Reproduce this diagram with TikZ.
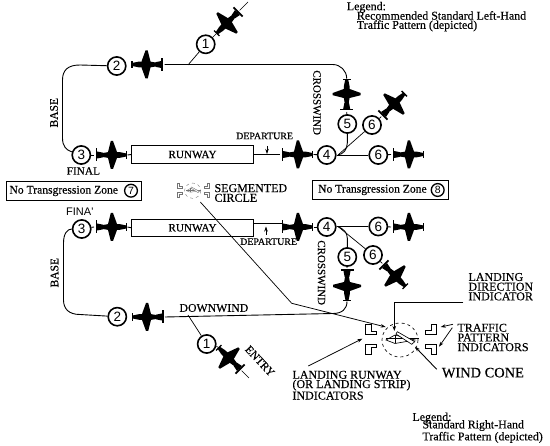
\documentclass[tikz,border=0pt]{standalone}
\usepackage{fontspec}
\setmainfont[RawFeature={embolden=0.35}]{Liberation Serif}
\newfontfamily\lsans{Liberation Sans}
\usetikzlibrary{arrows.meta}
\tikzset{
  num/.style={circle,draw=black,line width=1.6pt,fill=white,minimum size=18.2pt,inner sep=0pt,font=\lsans\fontsize{13.5}{12}\selectfont},
  smallnum/.style={num,minimum size=12.8pt,line width=1.3pt,font=\lsans\fontsize{10.5}{9}\selectfont},
  route/.style={line width=0.9pt,draw=black},
  thinline/.style={line width=0.7pt,draw=black},
  pointer/.style={line width=0.75pt,draw=black,-{Stealth[length=5pt,width=3.5pt]}},
  lab/.style={inner sep=0pt,anchor=west,align=left,text=black,font=\fontsize{12}{9.7}\selectfont},
  legendtext/.style={lab,font=\fontsize{11.9}{9.2}\selectfont},
  rwy/.style={draw=black,line width=0.9pt,minimum width=121.6pt,minimum height=17.6pt,inner sep=0pt,font=\fontsize{11.2}{11}\selectfont,text=black},
  zonebox/.style={draw=black,line width=0.9pt,minimum height=18.5pt,inner sep=0pt},
  aeroplane/.pic={
    \fill[black] (-15.5,-1) -- (-3,-3) -- (8,-2.8) -- (14.5,-1.5) -- (14.5,1.5) -- (8,2.8) -- (-3,3) -- (-15.5,1) -- cycle;
    \fill[black] (-4,-3) -- (-1.2,-14) -- (1,-14) -- (5,-3) -- (5,3) -- (1,14) -- (-1.2,14) -- (-4,3) -- cycle;
    \fill[black] (-16.5,-6.5) rectangle (-14.8,6.5);
    \fill[black] (-9,-2.3) -- (-14.8,-3.5) -- (-14.8,3.5) -- (-9,2.3) -- cycle;
    \fill[black] (13.8,-3.8) rectangle (15.2,3.8);
    \coordinate (-nose) at (15.5,0);
    \coordinate (-tail) at (-18,0);
  },
  segcircle/.pic={
    \draw[pic actions] (-34.3,-15.7) -- (-29,-15.7) -- (-29,-9) -- (-23.3,-9) -- (-23.3,-5.7) -- (-34.3,-5.7) -- cycle;
    \draw[pic actions] (-34.3,4.3) -- (-23.3,4.3) -- (-23.3,7.7) -- (-29,7.7) -- (-29,14.3) -- (-34.3,14.3) -- cycle;
    \draw[pic actions] (36.7,-15.7) -- (31.7,-15.7) -- (31.7,-10) -- (25.3,-10) -- (25.3,-5.7) -- (36.7,-5.7) -- cycle;
    \draw[pic actions] (25.3,4.3) -- (36.7,4.3) -- (36.7,14) -- (31.7,14) -- (31.7,8.3) -- (25.3,8.3) -- cycle;
    \draw[pic actions,dashed] (0,0) ellipse (18 and 17);
    \draw[pic actions] (-14,0) -- (-5,-5) -- (15,0) -- (-5,3.5) -- cycle;
    \draw[pic actions] (-5,-5) -- (-5,3.5);
    \draw[pic actions] (-14,-1.7) -- (19,-1.7);
    \draw[pic actions,fill=white] (-2.7,-8.3) -- (-4,-6) -- (11.7,4.3) -- (14.7,1.7) -- cycle;
  }
}
\begin{document}
\begin{tikzpicture}[x=1pt,y=-1pt]
\useasboundingbox (0,0) rectangle (550,446);
\fill[white] (0,0) rectangle (550,446);

% ---------- upper pattern ----------
\node[rwy] (rw1) at (192.5,154.5) {RUNWAY};
\pic (p1t) [rotate=225] at (227,23) {aeroplane};
\pic (p2t) at (146.5,64.5) [rotate=180] {aeroplane};
\pic (p3t) at (112,155) {aeroplane};
\pic (p4t) at (298,154.5) {aeroplane};
\pic (p5t) at (346.7,94) [rotate=90] {aeroplane};
\pic (p6t) at (394,104) [rotate=45] {aeroplane};
\pic (p7t) at (409,154.5) {aeroplane};

\node[num] (c1t) at (205.7,44.3) {1};
\node[num] (c2t) at (116.7,66) {2};
\node[num] (c3t) at (81.3,155) {3};
\node[num] (c4t) at (326.7,155) {4};
\node[num] (c5t) at (347.3,124) {5};
\node[num] (c6at) at (372,125) {6};
\node[num] (c6bt) at (378.3,155) {6};

\coordinate (ent1t) at (188,65);
\coordinate (ent2t) at (248,2);
\coordinate (ctop) at (338,155);
\draw[route] (c2t) -- (80,65) .. controls (68,65) and (62.5,70) .. (62.5,80) -- (62.5,138) .. controls (62.5,146) and (66,150) .. (c3t);
\draw[route,rounded corners=14pt] (p2t-tail) -| (p5t-nose);
\draw[thinline] (ent1t) -- (c1t);
\draw[thinline] (c1t) -- (p1t-nose);
\draw[thinline] (p1t-tail) -- (ent2t);
\draw[route] (c3t) -- (p3t-tail);
\draw[route] (p3t-nose) -- (rw1.west);
\draw[route] (rw1.east) -- (p4t-tail);
\draw[route] (p4t-nose) -- (c4t);
\draw[route] (c4t) -- (ctop);
\draw[route] (c5t) -- (p5t-tail);
\draw[route] (c5t) -- (347.3,143) .. controls (347.3,150) and (343,154) .. (ctop);
\draw[thinline] (ctop) -- (c6at);
\draw[route] (ctop) -- (c6bt);
\draw[route] (c6bt) -- (p7t-tail);
\draw[thinline] (c6at) -- (p6t-tail);
\coordinate (d1top) at (267,146);
\coordinate (d1bot) at (267,154);
\draw[pointer] (d1top) -- (d1bot);

\node[lab,font=\fontsize{9.9}{10}\selectfont] (depT) at (236,136) {DEPARTURE};
\node[lab,font=\fontsize{11.3}{11}\selectfont] (finT) at (66.5,171) {FINAL};
\node[lab,anchor=center,rotate=90,font=\fontsize{11.5}{11}\selectfont] (baseT) at (54,112.7) {BASE};
\node[lab,anchor=center,rotate=-90,font=\fontsize{11}{11}\selectfont] (crossT) at (317,102.7) {CROSSWIND};

% ---------- legends and zones ----------
\node[legendtext] (leg1) at (346.7,7.3) {Legend:};
\node[legendtext] (leg2) at (356.7,21.3) {Recommended Standard Left-Hand\\Traffic Pattern (depicted)};
\node[legendtext] (leg3) at (412.3,418) {Legend:};
\node[legendtext] (leg4) at (422.3,431.5) {Standard Right-Hand\\Traffic Pattern (depicted)};

\node[zonebox,minimum width=134.3pt] (z7) at (73.8,191.2) {};
\node[lab,font=\fontsize{11.6}{11}\selectfont,anchor=west] (z7t) at (9.3,191) {No Transgression Zone};
\node[smallnum] (c7) at (131,190.7) {7};
\node[zonebox,minimum width=136pt] (z8) at (380.7,190.2) {};
\node[lab,font=\fontsize{11.6}{11}\selectfont,anchor=west] (z8t) at (318,190) {No Transgression Zone};
\node[smallnum] (c8) at (437.7,190) {8};

\pic (segS) [scale=0.45,draw=black!55,line width=0.35pt] at (192.7,190.7) {segcircle};
\node[lab] (segT) at (214.3,193) {SEGMENTED\\CIRCLE};

% ---------- lower pattern ----------
\node[rwy] (rw2) at (192.5,227.8) {RUNWAY};
\pic (p2b) at (147,317) [rotate=180] {aeroplane};
\pic (p3b) at (112,227) {aeroplane};
\pic (p4b) at (298,227) {aeroplane};
\pic (p5b) at (347,286) [rotate=270] {aeroplane};
\pic (p6b) at (395,276) [rotate=-45] {aeroplane};
\pic (p7b) at (409,227) {aeroplane};
\pic (p1b) at (229,358) [rotate=135] {aeroplane};

\node[num] (c1b) at (206.7,344) {1};
\node[num] (c2b) at (117.3,316.7) {2};
\node[num] (c3b) at (81.7,229) {3};
\node[num] (c4b) at (326.7,227) {4};
\node[num] (c5b) at (347.3,257) {5};
\node[num] (c6ab) at (373,255) {6};
\node[num] (c6bb) at (378.3,226.5) {6};

\coordinate (ent1b) at (188,315);
\coordinate (ent2b) at (249,378);
\coordinate (cbot) at (338,226.5);
\coordinate (rwout) at (253.3,223.3);
\coordinate (rwin) at (282,223.3);
\draw[route] (c2b) -- (80,314.5) .. controls (69,314.5) and (63.5,309) .. (63.5,300) -- (63.5,243) .. controls (63.5,234) and (67,229) .. (c3b);
\draw[route] (p2b-tail) -- (333,313.5) .. controls (342,313.5) and (347,309) .. (p5b-nose);
\draw[thinline] (ent1b) -- (c1b);
\draw[thinline] (c1b) -- (p1b-nose);
\draw[thinline] (p1b-tail) -- (ent2b);
\draw[route] (c3b) -- (p3b-tail);
\draw[route] (p3b-nose) -- (rw2.west);
\draw[route] (rwout) -- (rwin);
\draw[route] (p4b-nose) -- (c4b);
\draw[route] (c4b) -- (cbot);
\draw[route] (cbot) -- (c6bb);
\draw[route] (c6bb) -- (p7b-tail);
\draw[route] (cbot) .. controls (343,229) and (347.3,232) .. (347.3,238) -- (c5b);
\draw[thinline] (cbot) -- (c6ab);
\draw[route] (c5b) -- (p5b-tail);
\draw[thinline] (c6ab) -- (p6b-tail);
\coordinate (d2bot) at (266,235);
\coordinate (d2top) at (266,226.5);
\draw[pointer] (d2bot) -- (d2top);

\node[lab,font=\lsans\fontsize{11}{10}\selectfont] (finB) at (66,212) {FINA'};
\node[lab,font=\fontsize{9.9}{10}\selectfont] (depB) at (240,241.7) {DEPARTURE};
\node[lab,anchor=center,rotate=90,font=\fontsize{11.5}{11}\selectfont] (baseB) at (54.5,272.7) {BASE};
\node[lab,anchor=center,rotate=-90,font=\fontsize{11}{11}\selectfont] (crossB) at (321.5,272.7) {CROSSWIND};
\node[lab,font=\fontsize{11.8}{11}\selectfont] (downB) at (179.3,308) {DOWNWIND};
\node[lab,anchor=center,rotate=-47,font=\fontsize{11.4}{11}\selectfont] (entB) at (260,361) {ENTRY};

% ---------- segmented circle ----------
\pic (segL) [draw=black,line width=0.65pt] at (400,340) {segcircle};

\coordinate (sLine1) at (200.3,202);
\coordinate (sLine2) at (291.7,303.3);
\coordinate (sLine3) at (385.7,327);
\draw[thinline] (sLine1) -- (sLine2);
\draw[pointer] (sLine2) -- (sLine3);

\coordinate (ld1) at (463.3,302.7);
\coordinate (ld2) at (394.3,302.7);
\coordinate (ld3) at (394.3,331);
\draw[pointer,line width=0.9pt] (ld1) -- (ld2) -- (ld3);
\coordinate (tp1) at (453,324.3);
\coordinate (tp2) at (440.7,327);
\coordinate (tp3) at (452.3,327.7);
\coordinate (tp4) at (439,346.7);
\draw[pointer] (tp1) -- (tp2);
\draw[pointer] (tp3) -- (tp4);
\coordinate (wc1) at (436.7,369.3);
\coordinate (wc2) at (415,346.7);
\draw[pointer,line width=0.9pt] (wc1) -- (wc2);
\coordinate (lr1) at (308.3,366);
\coordinate (lr2) at (362.3,338.7);
\draw[pointer] (lr1) -- (lr2);

\node[lab] (ldT) at (468.3,286.7) {LANDING\\DIRECTION\\INDICATOR};
\node[lab] (tpT) at (457.3,337.5) {TRAFFIC\\PATTERN\\INDICATORS};
\node[lab,font=\fontsize{14.4}{14}\selectfont] (wcT) at (441.7,372.7) {WIND CONE};
\node[lab,font=\fontsize{12}{9.3}\selectfont] (lrT) at (292.3,385.2) {LANDING RUNWAY\\(OR LANDING STRIP)\\INDICATORS};
\end{tikzpicture}
\end{document}
